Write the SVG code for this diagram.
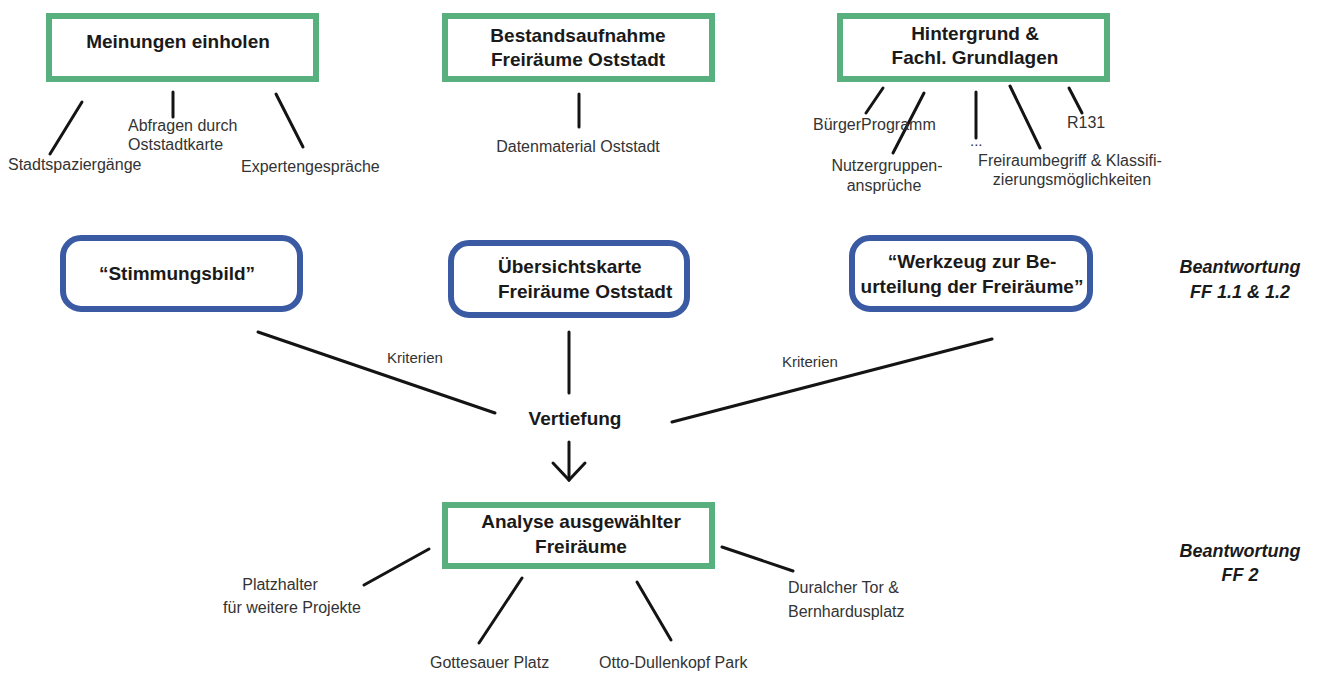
<svg xmlns="http://www.w3.org/2000/svg" width="1320" height="673" viewBox="0 0 1320 673">
<style>
.gbox{fill:#ffffff;stroke:#58b07e;stroke-width:6}
.bbox{fill:#ffffff;stroke:#3a5aa3;stroke-width:6}
.ln{stroke:#141414;stroke-width:3;fill:none;stroke-linecap:round}
.t{font-family:"Liberation Sans",Arial,sans-serif;font-weight:bold;font-size:19px;fill:#1a1a1a}
.l{font-family:"Liberation Sans",Arial,sans-serif;font-size:16px;fill:#333333}
.k{font-family:"Liberation Sans",Arial,sans-serif;font-size:15px;fill:#333333}
.a{font-family:"Liberation Sans",Arial,sans-serif;font-weight:bold;font-style:italic;font-size:18px;fill:#1a1a1a}
.m{text-anchor:middle}
</style>
<rect width="1320" height="673" fill="#ffffff"/>
<g id="connectors">
<rect x="197" y="77" width="5" height="4" fill="#141414"/>
<line class="ln" x1="82" y1="102" x2="50" y2="154"/>
<line class="ln" x1="173" y1="92" x2="173" y2="117"/>
<line class="ln" x1="276" y1="94" x2="303" y2="147"/>
<line class="ln" x1="579" y1="94" x2="579" y2="127"/>
<line class="ln" x1="883" y1="88" x2="866" y2="113"/>
<line class="ln" x1="924" y1="93" x2="893" y2="153"/>
<line class="ln" x1="976" y1="92" x2="976" y2="138"/>
<line class="ln" x1="1010" y1="86" x2="1040" y2="148"/>
<line class="ln" x1="1069" y1="88" x2="1082" y2="113"/>
<line class="ln" x1="258" y1="332" x2="495" y2="413"/>
<line class="ln" x1="569" y1="332" x2="569" y2="393"/>
<line class="ln" x1="672" y1="422" x2="992" y2="339"/>
<line class="ln" x1="569" y1="442" x2="569" y2="480"/>
<polyline class="ln" points="553,463 569,480 585,463"/>
<line class="ln" x1="429" y1="549" x2="364" y2="585"/>
<line class="ln" x1="522" y1="578" x2="479" y2="643"/>
<line class="ln" x1="637" y1="582" x2="671" y2="640"/>
<line class="ln" x1="722" y1="547" x2="793" y2="571"/>
</g>
<g id="meinungen">
<rect class="gbox" x="49" y="16" width="267" height="63"/>
<text class="t m" x="178" y="48">Meinungen einholen</text>
</g>
<g id="stadtspaziergaenge"><text class="l" x="8" y="170">Stadtspaziergänge</text></g>
<g id="abfragen"><text class="l" x="128" y="131">Abfragen durch</text><text class="l" x="128" y="150">Oststadtkarte</text></g>
<g id="experten"><text class="l" x="241" y="172">Expertengespräche</text></g>
<g id="bestand">
<rect class="gbox" x="445" y="16" width="267" height="63"/>
<text class="t m" x="578" y="42">Bestandsaufnahme</text>
<text class="t m" x="578" y="66">Freiräume Oststadt</text>
</g>
<g id="datenmaterial"><text class="l m" x="578" y="152">Datenmaterial Oststadt</text></g>
<g id="hintergrund">
<rect class="gbox" x="840" y="16" width="267" height="63"/>
<text class="t m" x="975" y="40">Hintergrund &amp;</text>
<text class="t m" x="975" y="64">Fachl. Grundlagen</text>
</g>
<g id="buergerprogramm"><text class="l" x="813" y="130">BürgerProgramm</text></g>
<g id="nutzergruppen"><text class="l m" x="887" y="171">Nutzergruppen-</text><text class="l m" x="884" y="191">ansprüche</text></g>
<g id="dots"><text class="k" x="970" y="146">...</text></g>
<g id="freiraumbegriff"><text class="l m" x="1070" y="166">Freiraumbegriff &amp; Klassifi-</text><text class="l m" x="1072" y="185">zierungsmöglichkeiten</text></g>
<g id="r131"><text class="l" x="1067" y="128">R131</text></g>
<g id="stimmungsbild">
<rect class="bbox" x="63" y="238" width="237" height="71" rx="18"/>
<text class="t m" x="177" y="280">“Stimmungsbild”</text>
</g>
<g id="uebersichtskarte">
<rect class="bbox" x="451" y="243" width="236" height="72" rx="18"/>
<text class="t" x="498" y="273">Übersichtskarte</text>
<text class="t" x="498" y="298">Freiräume Oststadt</text>
</g>
<g id="werkzeug">
<rect class="bbox" x="852" y="238" width="238" height="71" rx="18"/>
<text class="t m" x="972" y="268">“Werkzeug zur Be-</text>
<text class="t m" x="972" y="293">urteilung der Freiräume”</text>
</g>
<g id="beantwortung1"><text class="a m" x="1240" y="273">Beantwortung</text><text class="a m" x="1240" y="298">FF 1.1 &amp; 1.2</text></g>
<g id="kriterien1"><text class="k" x="387" y="363">Kriterien</text></g>
<g id="kriterien2"><text class="k" x="782" y="367">Kriterien</text></g>
<g id="vertiefung"><text class="t m" x="575" y="425">Vertiefung</text></g>
<g id="analyse">
<rect class="gbox" x="445" y="505" width="267" height="61"/>
<text class="t m" x="581" y="528">Analyse ausgewählter</text>
<text class="t m" x="581" y="553">Freiräume</text>
</g>
<g id="platzhalter"><text class="l m" x="280" y="590">Platzhalter</text><text class="l m" x="292" y="613">für weitere Projekte</text></g>
<g id="gottesauer"><text class="l" x="430" y="668">Gottesauer Platz</text></g>
<g id="otto"><text class="l" x="599" y="668">Otto-Dullenkopf Park</text></g>
<g id="duralcher"><text class="l" x="788" y="593">Duralcher Tor &amp;</text><text class="l" x="788" y="617">Bernhardusplatz</text></g>
<g id="beantwortung2"><text class="a m" x="1240" y="557">Beantwortung</text><text class="a m" x="1240" y="581">FF 2</text></g>
</svg>
